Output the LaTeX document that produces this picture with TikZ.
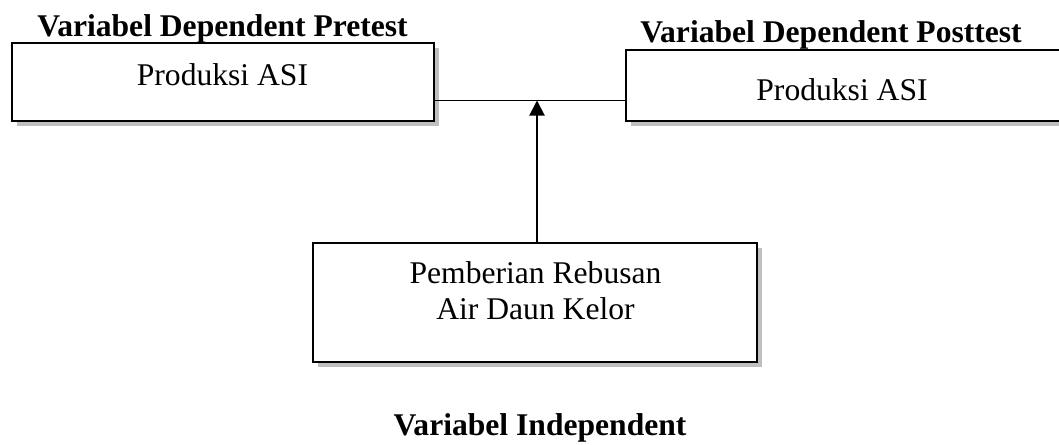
\documentclass[tikz,border=0pt]{standalone}
\usepackage{fontspec}
\setmainfont{Liberation Serif}
\usetikzlibrary{arrows.meta,shadows}
\begin{document}
\begin{tikzpicture}[x=1pt,y=-1pt,
  box/.style={draw=black, line width=2pt, fill=white, inner sep=0pt,
    drop shadow={shadow xshift=5pt, shadow yshift=-5pt, fill=black!25, opacity=1}},
  txt/.style={font=\fontsize{31.6}{36}\selectfont, anchor=base, inner sep=0pt},
  ttl/.style={font=\fontsize{31.6}{36}\selectfont\bfseries, anchor=base, inner sep=0pt},
  conn/.style={line width=1.3pt},
  arr/.style={line width=2pt, -{Triangle[length=15pt,width=15pt]}}]
\useasboundingbox (0,0) rectangle (1059,444);
\clip (0,0) rectangle (1059,444);
% boxes
\node[box, minimum width=422pt, minimum height=78pt] (left) at (223,82) {};
\node[box, minimum width=439pt, minimum height=71pt] (right) at (845.5,85.5) {};
\node[box, minimum width=444pt, minimum height=119pt] (bot) at (535,302.5) {};
% texts
\node[txt] (lt) at (222.5,85) {Produksi ASI};
\node[txt] (rt) at (842,100) {Produksi ASI};
\node[txt] (b1) at (535.5,283) {Pemberian Rebusan};
\node[txt] (b2) at (535.5,319) {Air Daun Kelor};
% titles
\node[ttl] (t1) at (222.5,37) {Variabel Dependent Pretest};
\node[ttl] (t2) at (831,42) {Variabel Dependent Posttest};
\node[ttl] (t3) at (540,435) {Variabel Independent};
% connectors
\coordinate (j) at (537,100.5);
\draw[conn] (left.east |- j) -- (right.west |- j);
\draw[arr] (bot.north -| j) -- (j);
\end{tikzpicture}
\end{document}
